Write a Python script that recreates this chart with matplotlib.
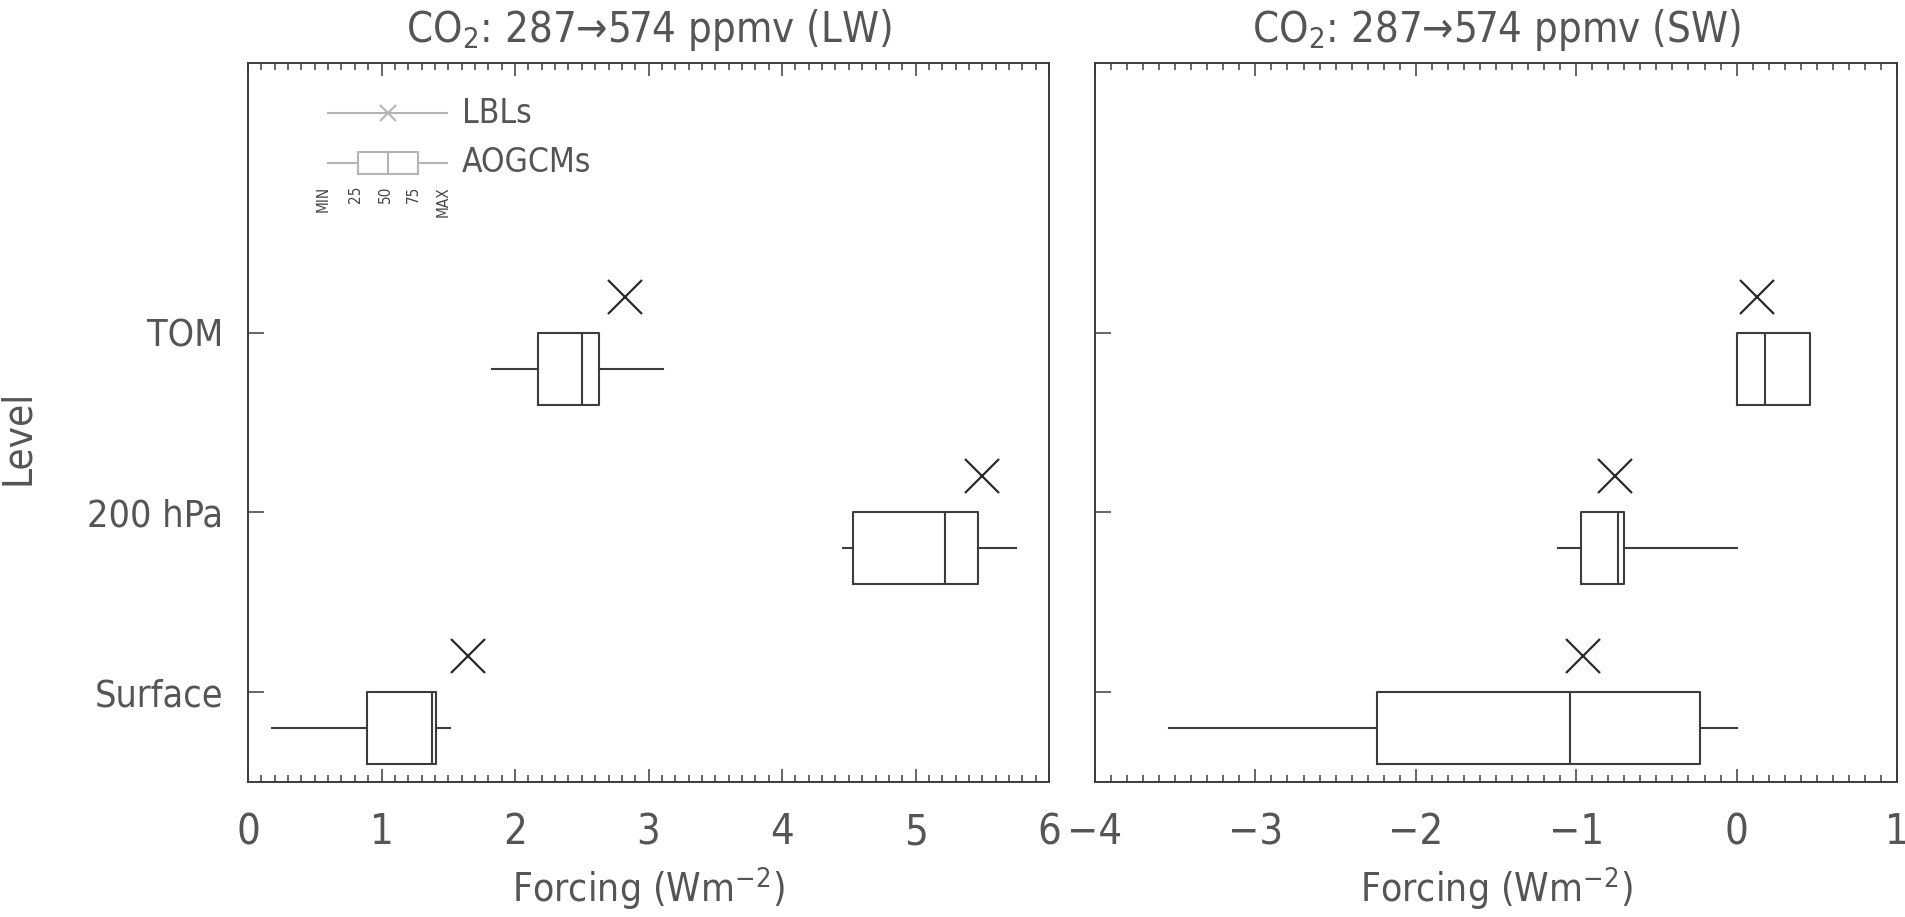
import matplotlib
matplotlib.use("Agg")
import matplotlib.pyplot as plt
from matplotlib.lines import Line2D
from matplotlib.patches import Rectangle
from matplotlib.ticker import MultipleLocator

plt.rcParams['font.family'] = ['DejaVu Sans']
plt.rcParams['font.stretch'] = 'condensed'
plt.rcParams['mathtext.fontset'] = 'custom'
plt.rcParams['mathtext.rm'] = 'DejaVu Sans:stretch=condensed'

TEXT = '#555555'
INK = '#3c3c3c'
KEY = '#b4b4b4'

# levels, bottom to top
levels = ["Surface", "200 hPa", "TOM"]
level_pos = [1, 2, 3]

# longwave forcing (W m-2): AOGCM spread and line-by-line reference
lw_min = [0.18, 4.46, 1.83]
lw_q1 = [0.89, 4.53, 2.17]
lw_med = [1.38, 5.22, 2.50]
lw_q3 = [1.41, 5.47, 2.63]
lw_max = [1.51, 5.75, 3.11]
lw_lbl = [1.65, 5.50, 2.82]

# shortwave forcing (W m-2)
sw_min = [-3.54, -1.115, 0.0]
sw_q1 = [-2.24, -0.97, 0.0]
sw_med = [-1.04, -0.74, 0.175]
sw_q3 = [-0.23, -0.70, 0.46]
sw_max = [0.0, 0.0, 0.46]
sw_lbl = [-0.96, -0.755, 0.13]

panels = [
    ("CO$_2$: 287\u2192574 ppmv (LW)", (0, 6), lw_min, lw_q1, lw_med, lw_q3, lw_max, lw_lbl),
    ("CO$_2$: 287\u2192574 ppmv (SW)", (-4, 1), sw_min, sw_q1, sw_med, sw_q3, sw_max, sw_lbl),
]

fig = plt.figure(figsize=(19.05, 9.17), dpi=100)
ax_left = fig.add_axes([0.1302, 0.1472, 0.4205, 0.7841])
ax_right = fig.add_axes([0.5748, 0.1472, 0.4210, 0.7841])

for ax, (title, xlim, mn, q1, med, q3, mx, lbl) in zip([ax_left, ax_right], panels):
    stats = []
    for i in range(len(levels)):
        stats.append(dict(whislo=mn[i], q1=q1[i], med=med[i], q3=q3[i], whishi=mx[i], fliers=[]))
    line_kw = dict(color=INK, linewidth=1.5)
    ax.bxp(stats, positions=[p - 0.2 for p in level_pos], widths=0.4,
           orientation='horizontal', showcaps=False, showfliers=False,
           boxprops=line_kw, medianprops=line_kw, whiskerprops=line_kw,
           manage_ticks=False)
    ax.plot(lbl, [p + 0.2 for p in level_pos], linestyle='none', marker='x',
            markersize=25, markeredgewidth=1.6, color='#2a2a2a')

    ax.set_xlim(*xlim)
    ax.set_ylim(0.5, 4.5)
    ax.xaxis.set_major_locator(MultipleLocator(1))
    ax.xaxis.set_minor_locator(MultipleLocator(0.1))
    ax.set_yticks(level_pos)
    ax.tick_params(axis='x', which='both', direction='in', top=True, bottom=True,
                   color=INK, labelcolor=TEXT, labelsize=30, pad=21)
    ax.tick_params(axis='x', which='major', length=9.5, width=1.1)
    ax.tick_params(axis='x', which='minor', length=5, width=1.1)
    ax.tick_params(axis='y', which='major', direction='in', left=True, right=False,
                   length=11.5, width=1.1, color=INK, labelcolor=TEXT,
                   labelsize=27, pad=18)
    for s in ax.spines.values():
        s.set_linewidth(1.4)
        s.set_color(INK)

    ax.set_title(title, fontsize=30, color=TEXT, pad=15)
    ax.set_xlabel("Forcing (Wm$^{-2}$)", fontsize=28, color=TEXT)
    ax.xaxis.set_label_coords(0.5, -0.115)

ax_left.set_yticklabels(levels)
ax_right.set_yticklabels([])
ax_left.set_ylabel("Level", fontsize=29, color=TEXT)
ax_left.yaxis.set_label_coords(-0.262, 0.48)

# key in the upper left corner
tr = ax_left.transAxes
ax_left.add_line(Line2D([0.100, 0.248], [0.930, 0.930], transform=tr, color=KEY, lw=1.5))
ax_left.add_line(Line2D([0.175], [0.930], transform=tr, color=KEY, marker='x',
                        markersize=12, markeredgewidth=1.5))
ax_left.text(0.267, 0.930, "LBLs", transform=tr, fontsize=24, color=TEXT, va='center')

ax_left.add_line(Line2D([0.100, 0.137], [0.861, 0.861], transform=tr, color=KEY, lw=1.5))
ax_left.add_line(Line2D([0.212, 0.248], [0.861, 0.861], transform=tr, color=KEY, lw=1.5))
ax_left.add_patch(Rectangle((0.137, 0.846), 0.075, 0.030, transform=tr, fill=False,
                            edgecolor=KEY, lw=1.5))
ax_left.add_line(Line2D([0.175, 0.175], [0.846, 0.876], transform=tr, color=KEY, lw=1.5))
ax_left.text(0.267, 0.861, "AOGCMs", transform=tr, fontsize=24, color=TEXT, va='center')

key_labels = ["MIN", "25", "50", "75", "MAX"]
key_x = [0.094, 0.134, 0.171, 0.206, 0.243]
for x, t in zip(key_x, key_labels):
    ax_left.text(x, 0.829, t, transform=tr, rotation=90, fontsize=11, color='#444444',
                 ha='center', va='top')

fig.savefig("out.png", dpi=100)
